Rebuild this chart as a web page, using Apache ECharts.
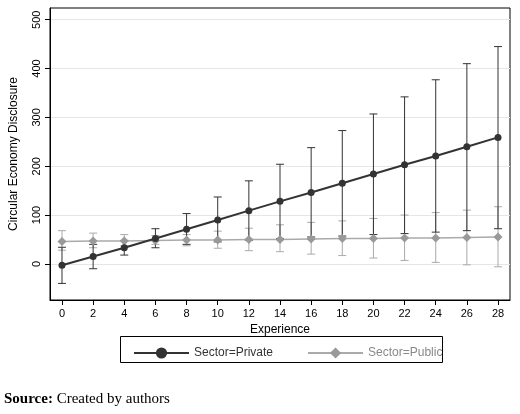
<!DOCTYPE html><html><head><meta charset="utf-8"><script src="https://cdn.jsdelivr.net/npm/echarts@6/dist/echarts.min.js"></script>
<style>body{margin:0;background:#fff}#c{width:520px;height:414px}</style></head><body><div id="c"></div><script>
const experience=[0,2,4,6,8,10,12,14,16,18,20,22,24,26,28];
const privMean=[-3,15,33,52,71,90,109,128,146,165,184,203,221,240,259];
const privLow=[-40,-10,18,33,40,45,48,52,55,57,60,62,65,68,72];
const privHigh=[34,40,48,72,103,137,170,204,238,273,307,342,377,410,445];
const pubMean=[46,47,47,48,49,49,50,50,51,52,52,53,53,54,55];
const pubLow=[28,33,37,40,37,32,27,25,20,17,12,7,3,-2,-6];
const pubHigh=[68,63,60,58,60,67,73,80,85,88,93,100,105,110,117];
const yTicks=[0,100,200,300,400,500];
const xTicks=experience;
function errSeries(low,high,color){return{type:'custom',silent:true,z:1,
data:experience.map((x,i)=>[x,low[i],high[i]]),
renderItem:(p,api)=>{const a=api.coord([api.value(0),api.value(1)]),b=api.coord([api.value(0),api.value(2)]);const w=4;
return{type:'group',children:[{type:'line',shape:{x1:a[0],y1:a[1],x2:b[0],y2:b[1]},style:{stroke:color,lineWidth:1}},
{type:'line',shape:{x1:a[0]-w,y1:a[1],x2:a[0]+w,y2:a[1]},style:{stroke:color,lineWidth:1}},
{type:'line',shape:{x1:b[0]-w,y1:b[1],x2:b[0]+w,y2:b[1]},style:{stroke:color,lineWidth:1}}]};}};}
const ch=echarts.init(document.getElementById('c'));
ch.setOption({animation:false,
graphic:[{type:'rect',left:120,top:336,z:-1,shape:{width:322,height:26},style:{fill:'#fff',stroke:'#000',lineWidth:1}},
{type:'text',left:4,top:392,style:{rich:{b:{fontFamily:'Liberation Serif',fontWeight:'bold',fontSize:15},n:{fontFamily:'Liberation Serif',fontSize:15}},text:'{b|Source:}{n| Created by authors}'}}],
legend:{top:342,left:128,itemGap:34,itemWidth:55,textStyle:{fontFamily:'Liberation Sans',fontSize:12,color:'#333'},
data:[{name:'Sector=Private'},{name:'Sector=Public',textStyle:{color:'#888'}}]},
grid:{left:48,right:10,top:8,bottom:114,show:true,borderColor:'#000',borderWidth:1,backgroundColor:'#fff'},
xAxis:{type:'value',min:-0.77,max:28.77,name:'Experience',nameLocation:'middle',nameGap:22,nameTextStyle:{fontFamily:'Liberation Sans',fontSize:12,color:'#000'},
axisLine:{onZero:false,lineStyle:{color:'#000'}},axisTick:{customValues:xTicks,lineStyle:{color:'#000'}},axisLabel:{customValues:xTicks,color:'#000',fontFamily:'Liberation Sans',fontSize:11},splitLine:{show:false}},
yAxis:{type:'value',min:-74,max:524,name:'Circular Economy Disclosure',nameLocation:'middle',nameGap:30,nameTextStyle:{fontFamily:'Liberation Sans',fontSize:12,color:'#000'},
axisLine:{show:true,onZero:false,lineStyle:{color:'#000'}},axisTick:{show:true,customValues:yTicks,lineStyle:{color:'#000'}},axisLabel:{customValues:yTicks,rotate:90,color:'#000',fontFamily:'Liberation Sans',fontSize:11},
splitLine:{show:true,customValues:yTicks,lineStyle:{color:'#e6e6e6'}}},
series:[errSeries(pubLow,pubHigh,'#aaa'),errSeries(privLow,privHigh,'#333'),
{name:'Sector=Public',type:'line',z:3,data:experience.map((x,i)=>[x,pubMean[i]]),symbol:'diamond',symbolSize:9,itemStyle:{color:'#999'},lineStyle:{color:'#aaa',width:1.5}},
{name:'Sector=Private',type:'line',z:4,data:experience.map((x,i)=>[x,privMean[i]]),symbol:'circle',symbolSize:7,itemStyle:{color:'#333'},lineStyle:{color:'#333',width:2}}]});
</script></body></html>
